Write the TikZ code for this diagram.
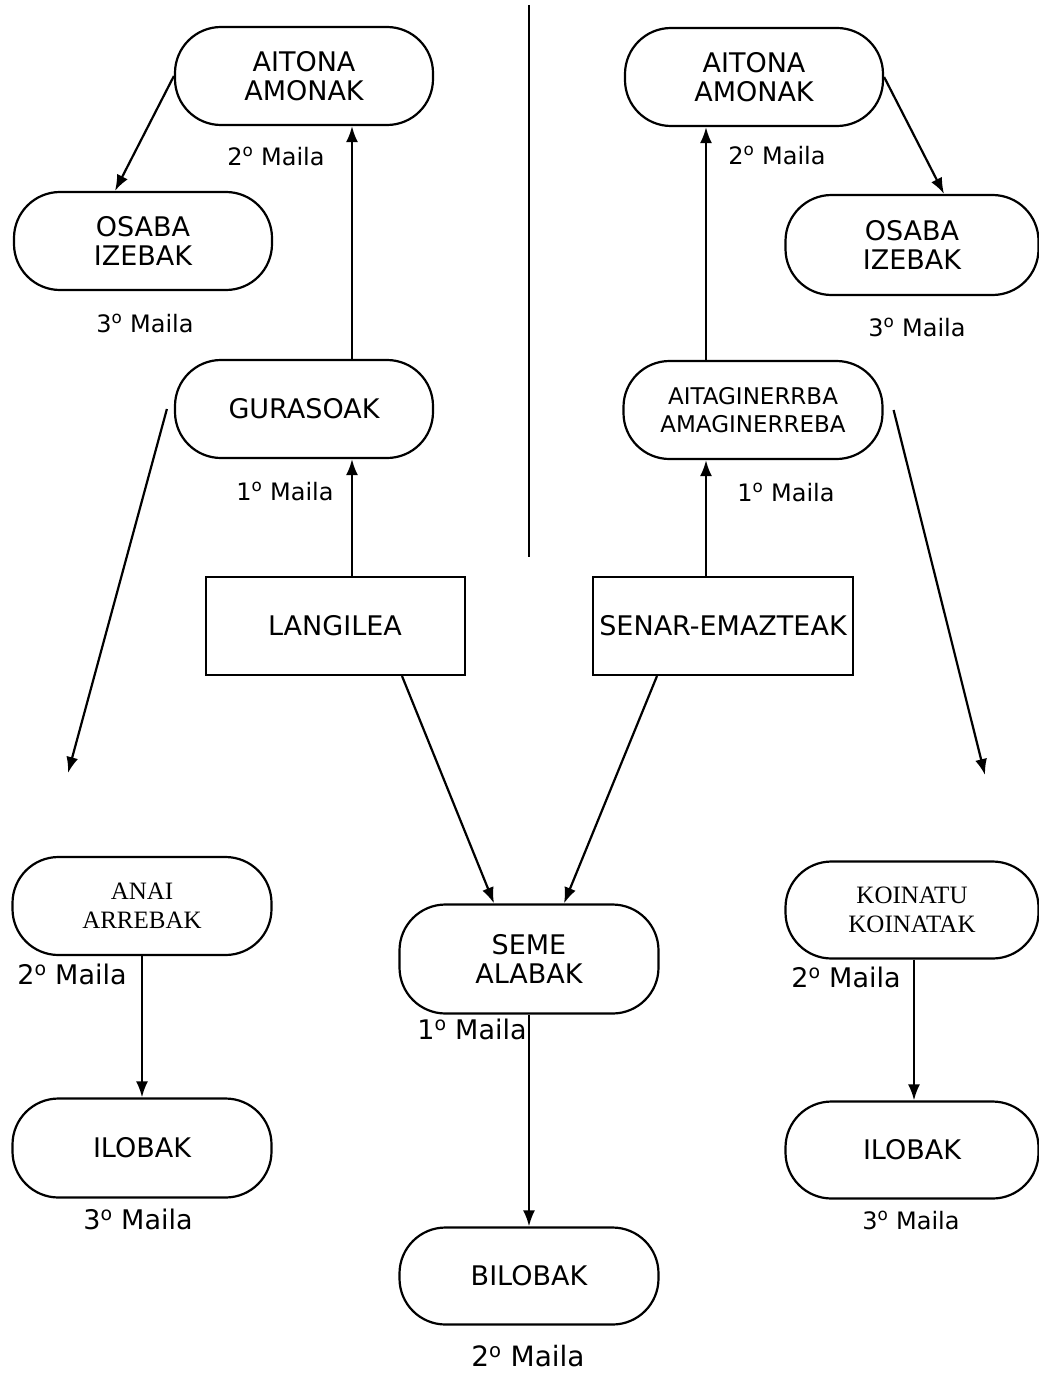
\documentclass[tikz,border=0pt]{standalone}
\usepackage{fontspec}
\setmainfont{DejaVu Sans}
\newfontfamily\serifA{Liberation Serif}
\usetikzlibrary{arrows.meta}
\begin{document}
\begin{tikzpicture}[x=1pt,y=-1pt,
  rbox/.style={draw, line width=2.2pt, rounded corners=46pt, minimum width=258pt, minimum height=98pt, align=center, font=\fontsize{27}{29}\selectfont, inner sep=0pt},
  sbox/.style={draw, line width=2pt, minimum width=259pt, minimum height=98pt, align=center, font=\fontsize{27}{29}\selectfont, inner sep=0pt},
  serifbox/.style={rbox, font=\fontsize{25}{29}\serifA\selectfont},
  lab/.style={font=\fontsize{24}{26}\selectfont, inner sep=0pt},
  labbig/.style={font=\fontsize{27}{29}\selectfont, inner sep=0pt},
  arr/.style={line width=2.2pt, -{Latex[length=16pt,width=12pt]}}]
\useasboundingbox (0,0) rectangle (1038,1375);
\fill[white] (0,0) rectangle (1038,1375);
% divider line
\draw[line width=2.2pt] (529,5) -- (529,557);
% nodes left
\node[rbox] (ait1) at (304,76) {AITONA\\AMONAK};
\node[lab] (l_ait1) at (276,156) {2\textsuperscript{o} Maila};
\node[rbox] (osa1) at (143,241) {OSABA\\IZEBAK};
\node[lab] (l_osa1) at (145,323) {3\textsuperscript{o} Maila};
\node[rbox] (gur) at (304,409) {GURASOAK};
\node[lab] (l_gur) at (285,491) {1\textsuperscript{o} Maila};
\node[sbox] (lang) at (335,626) {LANGILEA};
% nodes right
\node[rbox] (ait2) at (754,77) {AITONA\\AMONAK};
\node[lab] (l_ait2) at (777,155) {2\textsuperscript{o} Maila};
\node[rbox, minimum width=253pt, minimum height=100pt] (osa2) at (912,245) {OSABA\\IZEBAK};
\node[lab] (l_osa2) at (917,327) {3\textsuperscript{o} Maila};
\node[rbox, minimum width=259pt, font=\fontsize{23}{28}\selectfont] (aitag) at (753,410) {AITAGINERRBA\\AMAGINERREBA};
\node[lab] (l_aitag) at (786,492) {1\textsuperscript{o} Maila};
\node[sbox, minimum width=260pt] (senar) at (723,626) {SENAR-EMAZTEAK};
% bottom
\node[serifbox, minimum width=259pt] (anai) at (142,906) {ANAI\\ARREBAK};
\node[labbig] (l_anai) at (72,974) {2\textsuperscript{o} Maila};
\node[rbox, minimum width=259pt, minimum height=99pt] (ilo1) at (142,1148) {ILOBAK};
\node[labbig] (l_ilo1) at (138,1219) {3\textsuperscript{o} Maila};
\node[rbox, minimum width=259pt, minimum height=109pt] (seme) at (529,959) {SEME\\ALABAK};
\node[labbig] (l_seme) at (472,1029) {1\textsuperscript{o} Maila};
\node[rbox, minimum width=259pt, minimum height=97pt] (bilo) at (529,1276) {BILOBAK};
\node[labbig, font=\fontsize{28}{30}\selectfont] (l_bilo) at (528,1356) {2\textsuperscript{o} Maila};
\node[serifbox, minimum width=253pt, minimum height=97pt] (koi) at (912,910) {KOINATU\\KOINATAK};
\node[labbig] (l_koi) at (846,977) {2\textsuperscript{o} Maila};
\node[rbox, minimum width=253pt, minimum height=97pt] (ilo2) at (912,1150) {ILOBAK};
\node[lab] (l_ilo2) at (911,1220) {3\textsuperscript{o} Maila};
% free ends
\coordinate (endL) at (68,773);
\coordinate (endR) at (985,775);
% connectors
\draw[arr] ([xshift=17pt]lang.north) -- ([xshift=48pt]gur.south);
\draw[arr] ([xshift=48pt]gur.north) -- ([xshift=48pt]ait1.south);
\draw[arr] (ait1.west) -- ([xshift=-28pt]osa1.north);
\draw[arr] ([xshift=-7pt]gur.west) -- (endL);
\draw[arr] ([xshift=-17pt]senar.north) -- ([xshift=-47pt]aitag.south);
\draw[arr] ([xshift=-47pt]aitag.north) -- ([xshift=-48pt]ait2.south);
\draw[arr] (ait2.east) -- ([xshift=32pt]osa2.north);
\draw[arr] ([xshift=10pt]aitag.east) -- (endR);
\draw[arr] ([xshift=67pt]lang.south) -- ([xshift=-35pt]seme.north);
\draw[arr] ([xshift=-66pt]senar.south) -- ([xshift=35pt]seme.north);
\draw[arr] (seme.south) -- (bilo.north);
\draw[arr] (anai.south) -- (ilo1.north);
\draw[arr] ([xshift=2pt]koi.south) -- ([xshift=2pt]ilo2.north);
\end{tikzpicture}
\end{document}
